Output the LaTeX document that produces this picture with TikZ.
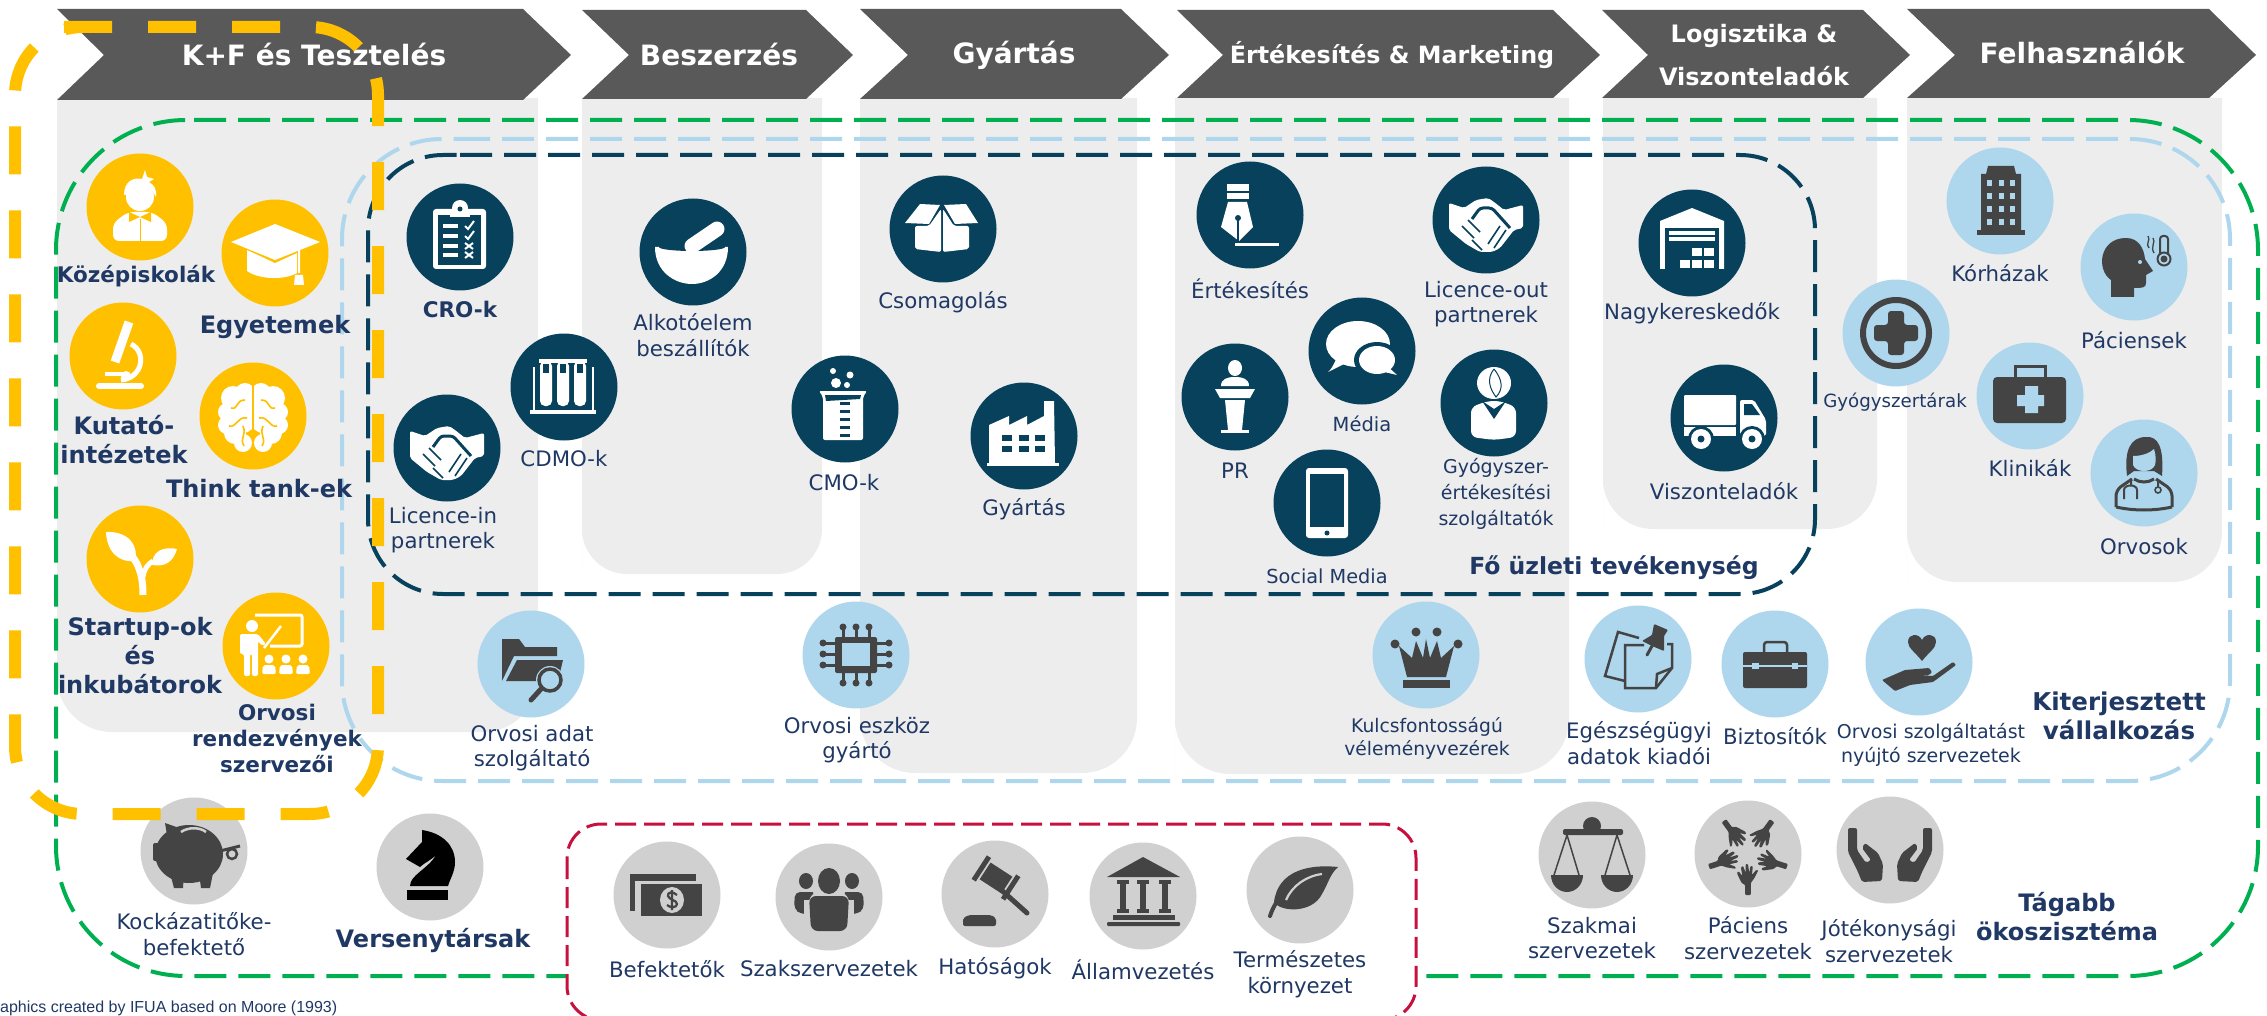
\documentclass[tikz,border=0pt]{standalone}
\usepackage{fontspec}
\setmainfont{DejaVu Sans}
\newfontfamily\capfont{Liberation Sans}
\usepackage{xcolor}
\definecolor{headgrey}{HTML}{595959}
\definecolor{colgrey}{HTML}{EDEDED}
\definecolor{goldc}{HTML}{FFC000}
\definecolor{navyc}{HTML}{07415C}
\definecolor{skyc}{HTML}{AED6EC}
\definecolor{stonec}{HTML}{D0D0D0}
\definecolor{darkc}{HTML}{444444}
\definecolor{textc}{HTML}{1F3864}
\definecolor{greenc}{HTML}{00B050}
\definecolor{redc}{HTML}{C8103F}
\tikzset{
    chevron/.style = {fill=headgrey},
    headtxt/.style = {align=center, inner sep=0pt, text=white, font=\fontsize{28}{43}\selectfont\bfseries},
    column/.style = {fill=colgrey},
    ringbox/.style = {line width=4, dash pattern=on 32 off 12},
    greenbox/.style = {ringbox, draw=greenc, rounded corners=130},
    skybox/.style = {ringbox, draw=skyc, rounded corners=100},
    navybox/.style = {ringbox, draw=navyc, rounded corners=75},
    redbox/.style = {draw=redc, fill=white, line width=3, dash pattern=on 21 off 8, rounded corners=34},
    goldbox/.style = {draw=goldc, line width=12, dash pattern=on 48 off 36, rounded corners=68},
    disc/.style = {circle, minimum size=107, inner sep=0pt},
    golddisc/.style = {disc, fill=goldc},
    navydisc/.style = {disc, fill=navyc},
    skydisc/.style = {disc, fill=skyc},
    stonedisc/.style = {disc, fill=stonec},
    lbl/.style = {align=center, inner sep=0pt, text=textc, font=\fontsize{21.3}{25.5}\selectfont},
    smlbl/.style = {lbl, font=\fontsize{18.7}{23}\selectfont},
    bdlbl/.style = {lbl, font=\fontsize{24}{29}\selectfont\bfseries},
    bdsm/.style = {lbl, font=\fontsize{21.5}{26}\selectfont\bfseries},
    capnote/.style = {inner sep=0pt, anchor=west, text=textc, font=\capfont\fontsize{16}{18}\selectfont}
}
\tikzset{
    pics/student/.style = {code={
        \fill[inkc] (0,-10) circle[radius=14];
        \fill[inkc] (-16,-12) .. controls (-16,-26) and (-6,-30) .. (2,-28) -- (5,-37) -- (7,-30) -- (14,-28) -- (9,-25) .. controls (14,-22) and (17,-18) .. (16,-10) -- (10,-20) -- (6,-15) -- (0,-22) -- (-6,-14) -- cycle;
        \fill[inkc,rounded corners=6] (-27,34) -- (-27,16) -- (-12,5) -- (12,5) -- (27,16) -- (27,34) -- cycle;
        \fill[holec] (0,10) -- (-11,5) -- (-11,15) -- cycle (0,10) -- (11,5) -- (11,15) -- cycle;
        \draw[holec,line width=1] (0,12) -- (0,34);
    }},
    pics/gradcap/.style = {code={
        \fill[inkc] (-28,-3) -- (0,9) -- (22,0) -- (22,20) .. controls (10,27) and (-15,27) .. (-28,18) -- cycle;
        \fill[holec] (-44,-11) -- (0,-31) -- (45,-11) -- (0,10) -- cycle;
        \fill[inkc] (-44,-11) -- (0,-29) -- (45,-11) -- (0,7) -- cycle;
        \draw[inkc,line width=2] (0,-12) -- (24,-4) -- (24,20);
        \fill[inkc] (20,22) -- (28,22) -- (29,32) -- (19,32) -- cycle;
    }},
    pics/microscope/.style = {code={
        \draw[inkc,line width=9] (6,-34) -- (-8,6);
        \draw[inkc,line width=5] (8,-12) .. controls (24,-4) and (20,22) .. (-2,24);
        \draw[inkc,line width=6,line cap=round] (-24,30) -- (18,30);
        \draw[inkc,line width=4] (-18,18) -- (4,18);
        \fill[inkc] (3,20) circle[radius=5];
    }},
    pics/brain/.style = {code={
        \foreach \sgn in {-1,1} {
            \foreach \px/\py/\pr in {8/-23/10, 20/-18/12, 26/-4/9, 26/9/9, 18/17/11, 10/27/9, 10/5/12, 10/-10/12} {
                \fill[inkc] (\sgn*\px,\py) circle[radius=\pr];
            }
            \draw[holec,line width=1.6] (\sgn*8,-16) .. controls (\sgn*18,-16) and (\sgn*14,-6) .. (\sgn*22,-8);
            \draw[holec,line width=1.6] (\sgn*6,2) .. controls (\sgn*16,0) and (\sgn*16,12) .. (\sgn*24,10);
            \draw[holec,line width=1.6] (\sgn*10,10) .. controls (\sgn*6,20) and (\sgn*14,22) .. (\sgn*9,30);
        }
        \draw[holec,line width=1.6] (0,-34) -- (0,37);
    }},
    pics/sprout/.style = {code={
        \draw[inkc,line width=7] (3,36) .. controls (3,15) and (-2,5) .. (-8,-3);
        \draw[inkc,line width=5] (3,18) .. controls (4,10) and (8,5) .. (13,2);
        \fill[inkc] (-34,-27) .. controls (-12,-28) and (-1,-14) .. (-5,2) .. controls (-20,4) and (-33,-6) .. cycle;
        \fill[inkc] (37,-10) .. controls (22,-13) and (12,-7) .. (12,6) .. controls (24,8) and (33,4) .. cycle;
    }},
    pics/teacher/.style = {code={
        \draw[inkc,line width=3,rounded corners=2] (-21,-31) -- (26,-31) -- (26,0) -- (-6,0);
        \draw[inkc,line width=2.5] (-12,2) -- (5,-20);
        \fill[inkc] (-24,-20) circle[radius=6];
        \fill[inkc,rounded corners=2] (-36,-12) -- (-18,-12) -- (-10,-2) -- (-14,0) -- (-18,-5) -- (-18,30) -- (-24,30) -- (-24,8) -- (-26,8) -- (-26,30) -- (-32,30) -- (-32,8) -- (-36,8) -- cycle;
        \foreach \px in {-7,10,27} {
            \fill[inkc] (\px,13) circle[radius=4.5];
            \fill[inkc,rounded corners=2] (\px-7,28) -- (\px-6,19) -- (\px+6,19) -- (\px+7,28) -- cycle;
        }
    }},
    pics/clipboard/.style = {code={
        \fill[inkc,rounded corners=3] (-27,-28) rectangle (26,32);
        \fill[inkc] (0,-29) circle[radius=8];
        \fill[holec] (-22,-22) rectangle (21,28);
        \fill[inkc] (-10,-28) rectangle (10,-20);
        \fill[holec] (0,-28) circle[radius=2.5];
        \foreach \py in {-11,-1,9,18} { \fill[inkc] (-17,\py-2) rectangle (-2,\py+2); }
        \foreach \py in {-11,-1} { \draw[inkc,line width=2] (5,\py) -- (8,\py+3) -- (14,\py-5); }
        \foreach \py in {9,18} { \draw[inkc,line width=2] (5,\py-3) -- (13,\py+3) (13,\py-3) -- (5,\py+3); }
    }},
    pics/testtubes/.style = {code={
        \fill[inkc] (-34,23) rectangle (32,27);
        \fill[inkc] (-31,-20) rectangle (-29,24);
        \fill[inkc] (28,-20) rectangle (30,24);
        \fill[inkc] (-25,-28) rectangle (23,-24);
        \foreach \px in {-18,-1,16} {
            \fill[inkc,rounded corners=5] (\px-6,-26) -- (\px+6,-26) -- (\px+6,19) -- (\px-6,19) -- cycle;
            \fill[holec] (\px-3,-23) rectangle (\px+3,-14);
        }
    }},
    pics/handshake/.style = {code={
        \fill[inkc,rounded corners=2] (-37,-17) -- (-22,-12) -- (-10,-20) -- (2,-22) -- (8,-18) -- (18,-10) -- (37,-15) -- (37,8) -- (28,10) -- (14,28) -- (6,32) -- (-6,32) -- (-20,24) -- (-37,10) -- cycle;
        \draw[holec,line width=3,rounded corners=3] (-14,-1) -- (-6,-12) -- (6,-12) -- (24,8);
        \draw[holec,line width=1.6] (-24,6) -- (-12,18) (-18,0) -- (-6,12) (-4,30) -- (-14,20) (14,6) -- (2,24) (20,10) -- (8,28);
    }},
    pics/mortar/.style = {code={
        \fill[inkc] (-38,-5) .. controls (-38,20) and (-18,32) .. (-1,32) .. controls (16,32) and (35,20) .. (35,-5) -- cycle;
        \fill[holec] (-1,-5) ellipse[x radius=33, y radius=4];
        \draw[inkc,line width=15,line cap=round] (-1,-6) -- (24,-23);
    }},
    pics/parcel/.style = {code={
        \fill[inkc] (-38,-6) -- (-23,-25) -- (-3,-24) -- (-14,-5) -- cycle;
        \fill[inkc] (35,-6) -- (23,-25) -- (1,-24) -- (12,-5) -- cycle;
        \fill[inkc,rounded corners=2] (-28,-3) -- (-14,-3) -- (-2,-20) -- (-2,23) -- (-28,20) -- cycle;
        \fill[inkc,rounded corners=2] (26,-3) -- (11,-3) -- (0,-20) -- (0,23) -- (26,20) -- cycle;
    }},
    pics/beaker/.style = {code={
        \fill[inkc,rounded corners=2] (-26,-18) -- (22,-18) -- (18,-12) -- (18,31) -- (-22,31) -- (-22,-12) -- cycle;
        \fill[holec] (-20,-14) -- (16,-14) -- (15,-10) -- (-19,-8) -- cycle;
        \foreach \py in {-4,4,12,20,28} { \fill[holec] (-5,\py-3) rectangle (5,\py-0.5); }
        \fill[inkc] (-12,-38) circle[radius=3];
        \fill[inkc] (5,-34) circle[radius=3.5];
        \fill[inkc] (-9,-26) circle[radius=5];
        \fill[inkc] (2,-24) circle[radius=3];
    }},
    pics/factory/.style = {code={
        \fill[inkc] (-37,27) rectangle (35,30);
        \fill[inkc] (-35,27) -- (-35,-11) -- (-15,-20) -- (-15,-11) -- (3,-20) -- (3,-11) -- (20,-20) -- (20,-35) -- (30,-35) -- (31,27) -- cycle;
        \foreach \px in {-17,0,16} { \foreach \py in {2,13} { \fill[holec] (\px-5,\py-3) rectangle (\px+5,\py+3); } }
    }},
    pics/nib/.style = {code={
        \fill[inkc] (-23,-31) rectangle (-1,-24);
        \fill[inkc] (-23,-22) rectangle (-1,-16);
        \fill[inkc] (-22,-13) -- (-3,-13) -- (3,12) -- (-11,26) -- (-29,12) -- cycle;
        \draw[holec,line width=1.5] (-12,4) -- (-12,26);
        \fill[holec] (-12,3) circle[radius=3];
        \fill[inkc] (-15,28) rectangle (29,31);
    }},
    pics/bubbles/.style = {code={
        \fill[inkc] (-4,-7) ellipse[x radius=32, y radius=23];
        \fill[inkc] (-24,6) -- (-16,12) -- (-34,21) .. controls (-28,16) and (-28,10) .. cycle;
        \fill[holec] (15,9) ellipse[x radius=23, y radius=18];
        \fill[inkc] (15,9) ellipse[x radius=18, y radius=14];
        \fill[inkc] (24,14) -- (35,24) -- (18,20) -- cycle;
    }},
    pics/podium/.style = {code={
        \fill[inkc] (0,-29) ellipse[x radius=7, y radius=8];
        \fill[inkc] (-14,-11) .. controls (-14,-18) and (-8,-20) .. (0,-20) .. controls (8,-20) and (14,-18) .. (14,-11) -- cycle;
        \fill[inkc] (-20,-8) -- (20,-8) -- (15,1) -- (-15,1) -- cycle;
        \fill[inkc] (-10,3) -- (10,3) -- (7,33) -- (-7,33) -- cycle;
        \fill[inkc] (-14,33) rectangle (14,36);
    }},
    pics/advisor/.style = {code={
        \fill[inkc] (0,-20) ellipse[x radius=17, y radius=16];
        \draw[holec,line width=1] (0,-34) .. controls (-8,-24) and (-4,-14) .. (2,-6) .. controls (10,-14) and (8,-24) .. (0,-34);
        \fill[inkc,rounded corners=6] (-23,34) -- (-23,4) -- (-6,-2) -- (6,-2) -- (22,4) -- (22,34) -- (0,37) -- cycle;
        \fill[holec] (-12,-2) -- (0,6) -- (12,-2) -- (0,16) -- cycle;
    }},
    pics/smartphone/.style = {code={
        \fill[inkc,rounded corners=3] (-21,-35) rectangle (21,35);
        \fill[holec] (-17,-29) rectangle (17,24);
        \fill[holec] (0,30) circle[radius=2.5];
    }},
    pics/warehouse/.style = {code={
        \fill[inkc] (-32,26) -- (-32,-22) -- (0,-35) -- (32,-22) -- (32,26) -- cycle;
        \fill[holec] (-27,-15) rectangle (27,26);
        \fill[inkc] (-23,-12) rectangle (23,-8);
        \fill[inkc] (-23,-6) rectangle (23,-2);
        \foreach \px/\py in {0/5, 12/5, -12/17, 0/17, 12/17} { \fill[inkc] (\px,\py) rectangle (\px+10,\py+8); }
    }},
    pics/truck/.style = {code={
        \fill[inkc,rounded corners=1] (-40,-23) rectangle (12,7);
        \fill[inkc] (-40,9) rectangle (12,18);
        \fill[inkc,rounded corners=2] (16,-18) -- (30,-18) -- (42,2) -- (42,18) -- (16,20) -- cycle;
        \fill[holec] (20,-14) -- (28,-14) -- (36,-3) -- (20,-3) -- cycle;
        \foreach \px in {-23,28} {
            \fill[holec] (\px,21) circle[radius=13];
            \fill[inkc] (\px,21) circle[radius=10];
            \fill[holec] (\px,21) circle[radius=3.5];
        }
    }},
    pics/redcross/.style = {code={
        \draw[inkc,line width=6] (0,0) circle[radius=33];
        \fill[inkc,rounded corners=3] (-8,-22) -- (8,-22) -- (8,-8) -- (22,-8) -- (22,8) -- (8,8) -- (8,22) -- (-8,22) -- (-8,8) -- (-22,8) -- (-22,-8) -- (-8,-8) -- cycle;
    }},
    pics/tower/.style = {code={
        \fill[inkc] (-19,29) -- (-19,-27) -- (-14,-27) -- (-12,-35) -- (14,-35) -- (16,-27) -- (21,-27) -- (21,29) -- cycle;
        \fill[inkc] (-23,29) rectangle (25,34);
        \foreach \px in {-11,1,12} { \foreach \py in {-18,-5,8,21} { \fill[holec] (\px-2.5,\py-3) rectangle (\px+2.5,\py+3); } }
    }},
    pics/feverhead/.style = {code={
        \fill[inkc] (-23,30) -- (-23,13) .. controls (-38,3) and (-35,-29) .. (-8,-29) .. controls (5,-29) and (10,-18) .. (11,-8) -- (19,4) -- (12,8) -- (12,16) .. controls (12,21) and (8,21) .. (0,21) -- (0,30) -- cycle;
        \fill[holec] (6,-5) circle[radius=2];
        \draw[inkc,line width=2,rounded corners=3] (26,-12) -- (26,-31) -- (34,-31) -- (34,-12);
        \draw[inkc,line width=2] (30,-8) circle[radius=6.5];
        \fill[inkc] (30,-8) circle[radius=3.5];
        \draw[inkc,line width=1.3] (14,-31) .. controls (17,-27) and (11,-23) .. (15,-19) (19,-29) .. controls (22,-25) and (16,-20) .. (20,-14);
    }},
    pics/firstaid/.style = {code={
        \draw[inkc,line width=3] (-15,-19) -- (-15,-30) -- (15,-30) -- (15,-19);
        \fill[inkc,rounded corners=4] (-37,-19) rectangle (36,27);
        \fill[holec] (-5,-10) -- (8,-10) -- (8,-1) -- (14,-1) -- (14,10) -- (8,10) -- (8,17) -- (-5,17) -- (-5,10) -- (-13,10) -- (-13,-1) -- (-5,-1) -- cycle;
    }},
    pics/doctor/.style = {code={
        \fill[inkc] (-17,3) .. controls (-20,-22) and (-14,-36) .. (2,-36) .. controls (14,-37) and (20,-26) .. (18,3) -- (10,-2) -- (-10,-2) -- cycle;
        \fill[holec] (-11,-17) .. controls (-2,-17) and (6,-20) .. (10,-24) .. controls (12,-18) and (12,-12) .. (11,-8) .. controls (8,0) and (-8,0) .. (-11,-8) -- cycle;
        \draw[inkc,line width=3,rounded corners=6] (-28,34) -- (-28,17) -- (-12,6);
        \draw[inkc,line width=3,rounded corners=6] (28,34) -- (28,17) -- (12,6);
        \draw[inkc,line width=3] (-28,34) .. controls (-10,38) and (10,38) .. (28,34);
        \draw[inkc,line width=3] (-10,6) .. controls (-4,10) and (4,10) .. (10,6);
        \draw[inkc,line width=2] (-20,26) -- (-20,17) .. controls (-20,11) and (-7,11) .. (-7,17) -- (-7,26) (-13,7) -- (-13,13) (14,7) -- (14,14);
        \draw[inkc,line width=1.6] (14,17) circle[radius=3];
    }},
    pics/folderlens/.style = {code={
        \fill[inkc] (-29,17) -- (-29,-25) -- (-12,-25) -- (-6,-17) -- (26,-17) -- (26,-8) -- (-17,-8) -- cycle;
        \fill[inkc] (-25,17) -- (-14,-4) -- (32,-4) -- (27,17) -- cycle;
        \fill[skyc] (19,16) circle[radius=14];
        \draw[inkc,line width=3.5] (19,16) circle[radius=11];
        \draw[inkc,line width=5,line cap=round] (10,25) -- (0,36);
    }},
    pics/chip/.style = {code={
        \fill[inkc,rounded corners=2] (-21,-18) rectangle (21,18);
        \fill[holec] (-14,-12) rectangle (14,11);
        \foreach \pp in {-13,0,13} {
            \draw[inkc,line width=3] (\pp,-28) -- (\pp,-18) (\pp,28) -- (\pp,18);
            \fill[inkc] (\pp,-28) circle[radius=3.5];
            \fill[inkc] (\pp,28) circle[radius=3.5];
        }
        \foreach \pp in {-12,-1,10} {
            \draw[inkc,line width=3] (-33,\pp) -- (-21,\pp) (33,\pp) -- (21,\pp);
            \fill[inkc] (-33,\pp) circle[radius=3.5];
            \fill[inkc] (33,\pp) circle[radius=3.5];
        }
    }},
    pics/crown/.style = {code={
        \fill[inkc] (-19,22) -- (-27,-9) -- (-14,3) -- (-10,-14) -- (-3,3) -- (0,-16) -- (4,3) -- (11,-14) -- (15,3) -- (28,-9) -- (20,22) -- cycle;
        \fill[inkc] (-23,25) rectangle (24,33);
        \foreach \px/\py in {-10/-23, 11/-23, -31/-11, 32/-11} { \fill[inkc] (\px,\py) circle[radius=4.5]; }
    }},
    pics/pinnote/.style = {code={
        \draw[inkc,line width=2.5] (1,-21) -- (-20,-27) -- (-33,17) -- (-13,22);
        \draw[inkc,line width=2.5] (6,-14) -- (-13,-14) -- (-13,29) -- (18,29) -- (34,9) -- (34,-15) -- (29,-15);
        \draw[inkc,line width=2.5] (18,29) -- (19,15) -- (34,9);
        \fill[inkc,rounded corners=1] (16,-35) -- (30,-29) -- (26,-23) -- (26,-8) -- (14,-13) -- (4,-18) -- (14,-24) -- cycle;
        \draw[inkc,line width=3,line cap=round] (14,-13) -- (9,-4);
    }},
    pics/briefcase/.style = {code={
        \draw[inkc,line width=2.5,rounded corners=3] (-11,-12) -- (-11,-22) -- (12,-22) -- (12,-12);
        \fill[inkc,rounded corners=2] (-32,-12) rectangle (32,24);
        \draw[holec,line width=1.3] (-32,2) -- (32,2);
        \fill[holec] (-23,-1) rectangle (-16,5);
        \fill[holec] (17,-1) rectangle (23,5);
    }},
    pics/careheart/.style = {code={
        \fill[inkc] (3,-1) .. controls (-4,-10) and (-11,-14) .. (-11,-20) .. controls (-11,-29) and (0,-29) .. (3,-22) .. controls (6,-29) and (17,-29) .. (17,-20) .. controls (17,-14) and (10,-10) .. (3,-1) -- cycle;
        \fill[inkc,rounded corners=1] (-37,18) -- (-14,8) -- (10,6) -- (13,10) -- (10,13) -- (-4,13) -- (14,14) -- (34,0) -- (37,3) -- (14,20) -- (-9,23) -- (-24,29) -- cycle;
    }},
    pics/piggy/.style = {code={
        \fill[inkc] (-5,3) ellipse[x radius=34, y radius=29];
        \fill[inkc] (-29,-28) -- (-12,-22) -- (-26,-10) -- cycle;
        \fill[inkc,rounded corners=2] (-41,-8) rectangle (-30,10);
        \fill[inkc] (-24,22) -- (-10,22) -- (-11,37) -- (-20,37) -- cycle;
        \fill[inkc] (5,22) -- (19,22) -- (16,37) -- (7,37) -- cycle;
        \draw[holec,line width=2.5] (-13,-19) .. controls (-6,-24) and (6,-24) .. (12,-19);
        \draw[inkc,line width=3] (26,0) -- (46,-5);
        \draw[inkc,line width=2.5] (38,3) circle[radius=5];
    }},
    pics/knight/.style = {code={
        \fill[black] (-23,23) rectangle (18,33);
        \fill[black] (-8,-37) .. controls (12,-34) and (25,-22) .. (25,-5) .. controls (25,5) and (20,12) .. (18,19) -- (-20,19) .. controls (-20,8) and (-2,2) .. (6,-12) .. controls (0,-6) and (-6,-4) .. (-10,0) -- (-24,-8) -- (-8,-25) -- cycle;
    }},
    pics/banknotes/.style = {code={
        \fill[inkc] (-37,-21) rectangle (29,-14);
        \fill[inkc] (-37,-21) rectangle (-32,16);
        \fill[inkc] (-26,-11) rectangle (35,21);
        \fill[holec] (5,5) ellipse[x radius=12, y radius=13];
        \draw[inkc,line width=2.2] (10,0) .. controls (6,-4) and (0,-3) .. (1,1) .. controls (2,5) and (10,5) .. (10,9) .. controls (10,13) and (3,13) .. (0,10) (5,-5) -- (5,15);
    }},
    pics/people/.style = {code={
        \foreach \sgn in {-1,1} {
            \fill[inkc] (\sgn*23,-16) ellipse[x radius=7, y radius=8];
            \fill[inkc,rounded corners=5] (\sgn*13,-5) -- (\sgn*34,-5) -- (\sgn*35,12) -- (\sgn*28,17) -- (\sgn*20,17) -- (\sgn*20,0) -- cycle;
        }
        \fill[holec] (-25,3) rectangle (25,35);
        \fill[inkc] (0,-16) ellipse[x radius=11, y radius=13];
        \fill[inkc,rounded corners=7] (-20,-1) -- (20,-1) -- (18,34) -- (-18,34) -- cycle;
    }},
    pics/gavel/.style = {code={
        \fill[inkc,rounded corners=2] (-32,24) -- (-26,21) -- (-4,21) -- (1,24) -- (1,32) -- (-32,32) -- cycle;
        \begin{scope}[shift={(1,-16)},rotate=-33]
            \fill[inkc] (-13,-10) rectangle (13,10);
            \fill[inkc] (-20,-14) rectangle (-15,14);
            \fill[inkc] (15,-14) rectangle (20,14);
        \end{scope}
        \draw[inkc,line width=5,line cap=round] (3,-7) -- (32,19);
    }},
    pics/temple/.style = {code={
        \fill[inkc] (-36,-19) -- (0,-39) -- (37,-19) -- cycle;
        \foreach \px in {-20,0,22} {
            \fill[inkc] (\px-6,-16) rectangle (\px+6,-12);
            \fill[inkc] (\px-3,-12) rectangle (\px+3,13);
            \fill[inkc] (\px-6,13) rectangle (\px+6,17);
        }
        \fill[inkc] (-30,19) rectangle (32,24);
        \fill[inkc,rounded corners=1] (-36,26) rectangle (37,30);
    }},
    pics/leaf/.style = {code={
        \fill[inkc] (38,-23) .. controls (10,-26) and (-22,-20) .. (-26,12) .. controls (-20,22) and (12,24) .. (22,4) .. controls (28,-6) and (30,-16) .. cycle;
        \draw[holec,line width=2.2] (-14,10) .. controls (-8,-4) and (6,-14) .. (22,-16);
        \draw[inkc,line width=4,line cap=round] (-30,26) .. controls (-26,14) and (-20,6) .. (-10,-3);
    }},
    pics/scales/.style = {code={
        \fill[inkc] (0,-29) circle[radius=9];
        \fill[inkc,rounded corners=2] (-29,-26) rectangle (31,-20);
        \foreach \sgn in {-1,1} {
            \draw[inkc,line width=1.5] (\sgn*25,-20) -- (\sgn*13,20) (\sgn*25,-20) -- (\sgn*38,20);
            \fill[inkc] (\sgn*25-16,20) arc[start angle=180, end angle=360, x radius=16, y radius=-17] -- cycle;
        }
    }},
    pics/handring/.style = {code={
        \foreach \ang in {0,72,144,216,288} {
            \begin{scope}[rotate=\ang, shift={(0,4)}, xscale=0.8]
                \fill[inkc,rounded corners=1] (-3.5,37) -- (3.5,37) -- (3.5,25) -- (8,20) -- (13,12) -- (10,12) -- (5,17) -- (6,8) -- (3,8) -- (1.5,15) -- (0,6) -- (-3,6) -- (-3,15) -- (-6,8) -- (-9,9) -- (-7,18) -- (-12,13) -- (-14,15) -- (-8,25) -- (-3.5,27) -- cycle;
            \end{scope}
        }
    }},
    pics/openhands/.style = {code={
        \foreach \sgn in {-1,1} {
            \fill[inkc,rounded corners=2] (\sgn*42,-22) -- (\sgn*42,2) -- (\sgn*32,22) -- (\sgn*28,32) -- (\sgn*8,31) -- (\sgn*7,14) -- (\sgn*12,3) -- (\sgn*25,-7) -- (\sgn*28,-2) -- (\sgn*19,10) -- (\sgn*24,13) -- (\sgn*33,0) -- (\sgn*33,-22) -- cycle;
        }
    }}
}
\newcommand{\icon}[4]{%
    \node[#3] (#1) at (#2) {};
    \pic at (#1) {#4};
}
\begin{document}
\begin{tikzpicture}[x=1pt,y=-1pt]
    \useasboundingbox (0,0) rectangle (2267,1016);
    % columns
    \foreach \xa/\xb/\yb/\rad in {57/538/732/55, 582/822/574/45, 860/1137/773/55, 1175/1569/774/55, 1603/1877/529/50, 1907/2222/582/50} {
        \fill[column] (\xa,98) -- (\xb,98) -- (\xb,\yb-\rad) [rounded corners=\rad] -- (\xb,\yb) -- (\xa,\yb) -- (\xa,\yb-\rad) [sharp corners] -- cycle;
    }
    % header arrows
    \foreach \xa/\xn/\xb/\xt/\ya/\yb in {57/104/523/571/9/100, 582/629/806/853/10/99, 860/908/1121/1169/9/99, 1177/1223/1553/1600/10/98, 1602/1648/1863/1910/10/98, 1907/1955/2209/2256/9/98} {
        \fill[chevron] (\xa,\ya) -- (\xb,\ya) -- (\xt,55) -- (\xb,\yb) -- (\xa,\yb) -- (\xn,55) -- cycle;
    }
    \node[headtxt] (h1) at (314,55) {K+F és Tesztelés};
    \node[headtxt] (h2) at (719,55) {Beszerzés};
    \node[headtxt] (h3) at (1014,55) {Gyártás};
    \node[headtxt, font=\fontsize{23.8}{30}\selectfont\bfseries] (h4) at (1392,55) {Értékesítés \& Marketing};
    \node[headtxt, font=\fontsize{24}{43}\selectfont\bfseries] (h5) at (1754,55) {Logisztika \&\\Viszonteladók};
    \node[headtxt] (h6) at (2082,53) {Felhasználók};
    % dashed rings
    \draw[greenbox] (194,120) -- (2258,120) -- (2258,976) -- (56,976) -- (56,120) -- (194,120);
    \draw[skybox] (458,139) -- (2230,139) -- (2230,781) -- (342,781) -- (342,139) -- (458,139);
    \draw[navybox] (460,155) -- (1815,155) -- (1815,594) -- (368,594) -- (368,155) -- (460,155);
    \draw[redbox] (567,824) rectangle (1416,1020);
    % discs
    \begin{scope}
        \colorlet{inkc}{white}\colorlet{holec}{goldc}
        \icon{school}{140,207}{golddisc}{student}
        \icon{univ}{275,253}{golddisc}{gradcap}
        \icon{inst}{123,356}{golddisc}{microscope}
        \icon{think}{253,416}{golddisc}{brain}
        \icon{start}{140,559}{golddisc}{sprout}
        \icon{event}{276,646}{golddisc}{teacher}
    \end{scope}
    \begin{scope}
        \colorlet{inkc}{white}\colorlet{holec}{navyc}
        \icon{cro}{460,237}{navydisc}{clipboard}
        \icon{cdmo}{564,387}{navydisc}{testtubes}
        \icon{licin}{447,448}{navydisc}{handshake}
        \icon{parts}{693,252}{navydisc}{mortar}
        \icon{pack}{943,229}{navydisc}{parcel}
        \icon{cmo}{845,409}{navydisc}{beaker}
        \icon{plant}{1024,436}{navydisc}{factory}
        \icon{sales}{1250,215}{navydisc}{nib}
        \icon{pr}{1235,397}{navydisc}{podium}
        \icon{media}{1362,351}{navydisc}{bubbles}
        \icon{licout}{1486,220}{navydisc}{handshake}
        \icon{phserv}{1494,403}{navydisc}{advisor}
        \icon{social}{1327,503}{navydisc}{smartphone}
        \icon{whole}{1692,243}{navydisc}{warehouse}
        \icon{resell}{1724,418}{navydisc}{truck}
    \end{scope}
    \begin{scope}
        \colorlet{inkc}{darkc}\colorlet{holec}{skyc}
        \icon{pharm}{1896,333}{skydisc}{redcross}
        \icon{hosp}{2000,201}{skydisc}{tower}
        \icon{patient}{2134,267}{skydisc}{feverhead}
        \icon{clinic}{2030,396}{skydisc}{firstaid}
        \icon{doc}{2144,473}{skydisc}{doctor}
        \icon{data}{531,664}{skydisc}{folderlens}
        \icon{device}{856,655}{skydisc}{chip}
        \icon{kol}{1426,655}{skydisc}{crown}
        \icon{publ}{1638,659}{skydisc}{pinnote}
        \icon{insur}{1775,664}{skydisc}{briefcase}
        \icon{care}{1919,662}{skydisc}{careheart}
    \end{scope}
    \begin{scope}
        \colorlet{inkc}{darkc}\colorlet{holec}{stonec}
        \icon{vc}{194,851}{stonedisc}{piggy}
        \icon{rival}{430,867}{stonedisc}{knight}
        \icon{invest}{667,895}{stonedisc}{banknotes}
        \icon{union}{829,897}{stonedisc}{people}
        \icon{auth}{995,894}{stonedisc}{gavel}
        \icon{gov}{1143,896}{stonedisc}{temple}
        \icon{nature}{1300,890}{stonedisc}{leaf}
        \icon{prof}{1592,855}{stonedisc}{scales}
        \icon{ptorg}{1748,854}{stonedisc}{handring}
        \icon{charity}{1890,850}{stonedisc}{openhands}
    \end{scope}
    % labels
    \node[bdsm] (school-t) at (136,276) {Középiskolák};
    \node[bdlbl] (univ-t) at (275,327) {Egyetemek};
    \node[bdlbl] (inst-t) at (124,440) {Kutató-\\intézetek};
    \node[bdlbl] (think-t) at (259,489) {Think tank-ek};
    \node[bdlbl] (start-t) at (140,656) {Startup-ok\\és\\inkubátorok};
    \node[bdsm] (event-t) at (277,738) {Orvosi\\rendezvények\\szervezői};
    \node[bdsm] (cro-t) at (460,309) {CRO-k};
    \node[lbl] (cdmo-t) at (564,459) {CDMO-k};
    \node[lbl] (licin-t) at (443,530) {Licence-in\\partnerek};
    \node[lbl] (parts-t) at (693,335) {Alkotóelem\\beszállítók};
    \node[lbl] (pack-t) at (943,302) {Csomagolás};
    \node[lbl] (cmo-t) at (844,483) {CMO-k};
    \node[lbl] (plant-t) at (1024,509) {Gyártás};
    \node[lbl] (sales-t) at (1250,289) {Értékesítés};
    \node[lbl] (pr-t) at (1235,471) {PR};
    \node[smlbl, font=\fontsize{19.5}{23}\selectfont] (media-t) at (1362,424) {Média};
    \node[lbl] (licout-t) at (1486,304) {Licence-out\\partnerek};
    \node[smlbl, font=\fontsize{19}{26}\selectfont] (phserv-t) at (1496,494) {Gyógyszer-\\értékesítési\\szolgáltatók};
    \node[smlbl, font=\fontsize{19.3}{23}\selectfont] (social-t) at (1327,576) {Social Media};
    \node[bdlbl, font=\fontsize{23.5}{29}\selectfont\bfseries] (core-t) at (1614,568) {Fő üzleti tevékenység};
    \node[lbl] (whole-t) at (1692,313) {Nagykereskedők};
    \node[lbl] (resell-t) at (1724,491) {Viszonteladók};
    \node[smlbl, font=\fontsize{18.2}{23}\selectfont] (pharm-t) at (1895,402) {Gyógyszertárak};
    \node[lbl] (hosp-t) at (2000,273) {Kórházak};
    \node[lbl] (patient-t) at (2134,340) {Páciensek};
    \node[lbl] (clinic-t) at (2030,468) {Klinikák};
    \node[lbl] (doc-t) at (2144,547) {Orvosok};
    \node[lbl] (data-t) at (532,748) {Orvosi adat\\szolgáltató};
    \node[lbl] (device-t) at (857,740) {Orvosi eszköz\\gyártó};
    \node[smlbl] (kol-t) at (1427,738) {Kulcsfontosságú\\véleményvezérek};
    \node[lbl] (publ-t) at (1639,743) {Egészségügyi\\adatok kiadói};
    \node[lbl] (insur-t) at (1775,736) {Biztosítók};
    \node[smlbl, font=\fontsize{19}{24}\selectfont] (care-t) at (1931,745) {Orvosi szolgáltatást\\nyújtó szervezetek};
    \node[bdlbl, font=\fontsize{24.5}{29}\selectfont\bfseries] (ext-t) at (2119,716) {Kiterjesztett\\vállalkozás};
    \node[lbl] (vc-t) at (194,934) {Kockázatitőke-\\befektető};
    \node[bdlbl] (rival-t) at (433,940) {Versenytársak};
    \node[lbl] (invest-t) at (667,969) {Befektetők};
    \node[lbl] (union-t) at (829,969) {Szakszervezetek};
    \node[lbl] (auth-t) at (995,968) {Hatóságok};
    \node[lbl] (gov-t) at (1143,970) {Államvezetés};
    \node[lbl] (nature-t) at (1300,974) {Természetes\\környezet};
    \node[lbl] (prof-t) at (1592,938) {Szakmai\\szervezetek};
    \node[lbl] (ptorg-t) at (1748,938) {Páciens\\szervezetek};
    \node[lbl] (charity-t) at (1889,941) {Jótékonysági\\szervezetek};
    \node[bdlbl] (eco-t) at (2067,917) {Tágabb\\ökoszisztéma};
    \node[capnote] (note) at (0,1008) {aphics created by IFUA based on Moore (1993)};
    % gold ring comes last
    \draw[goldbox] (64,27) -- (378,27) -- (378,814) -- (15,814) -- (15,27) -- (64,27);
\end{tikzpicture}
\end{document}
